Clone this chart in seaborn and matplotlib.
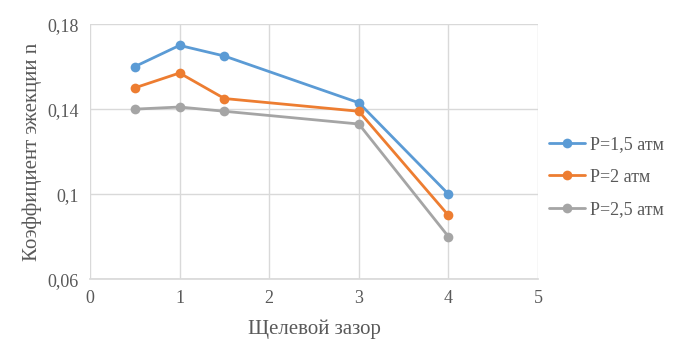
import numpy as np
import pandas as pd
import matplotlib.pyplot as plt
import seaborn as sns

# данные
gap = [0.5, 1, 1.5, 3, 4]
n_p15 = [0.160, 0.170, 0.165, 0.143, 0.100]
n_p20 = [0.150, 0.157, 0.145, 0.139, 0.090]
n_p25 = [0.140, 0.141, 0.139, 0.133, 0.080]
series_names = ["P=1,5 атм", "P=2 атм", "P=2,5 атм"]
colors = ["#5B9BD5", "#ED7D31", "#A5A5A5"]
yticks = [0.06, 0.10, 0.14, 0.18]
ytick_labels = ["0,06", "0,1", "0,14", "0,18"]
xticks = [0, 1, 2, 3, 4, 5]

df = pd.DataFrame({
    "gap": gap * 3,
    "n": n_p15 + n_p20 + n_p25,
    "series": sum([[s] * len(gap) for s in series_names], []),
})

sns.set_theme(style="white")
plt.rcParams["font.family"] = ["Liberation Serif", "DejaVu Serif"]

fig = plt.figure(figsize=(6.76, 3.4), dpi=100)
ax = fig.add_axes([0.133, 0.179, 0.663, 0.750])

sns.lineplot(data=df, x="gap", y="n", hue="series", hue_order=series_names,
             palette=colors, marker="o", markersize=7, markeredgewidth=0,
             linewidth=2, ax=ax)

ax.set_xlim(0, 5)
ax.set_ylim(0.06, 0.18)
ax.set_xticks(xticks)
ax.set_xticklabels([str(x) for x in xticks])
ax.set_yticks(yticks)
ax.set_yticklabels(ytick_labels)
ax.grid(True, color="#D9D9D9", linewidth=1)
for sp in ax.spines.values():
    sp.set_visible(False)
ax.spines["bottom"].set_visible(True)
ax.spines["bottom"].set_color("#D9D9D9")
ax.tick_params(axis="both", length=0, labelsize=13, colors="#595959", pad=8)

ax.set_xlabel("Щелевой зазор", fontsize=15, color="#595959", labelpad=9)
ax.set_ylabel("Коэффициент эжекции n", fontsize=15, color="#595959", labelpad=4)

ax.legend(loc="center left", bbox_to_anchor=(1.0, 0.40), frameon=False,
          fontsize=13, handlelength=2.0, handletextpad=0.3, labelspacing=0.85,
          labelcolor="#595959", borderaxespad=0.2)

fig.savefig("out.png", dpi=100)
